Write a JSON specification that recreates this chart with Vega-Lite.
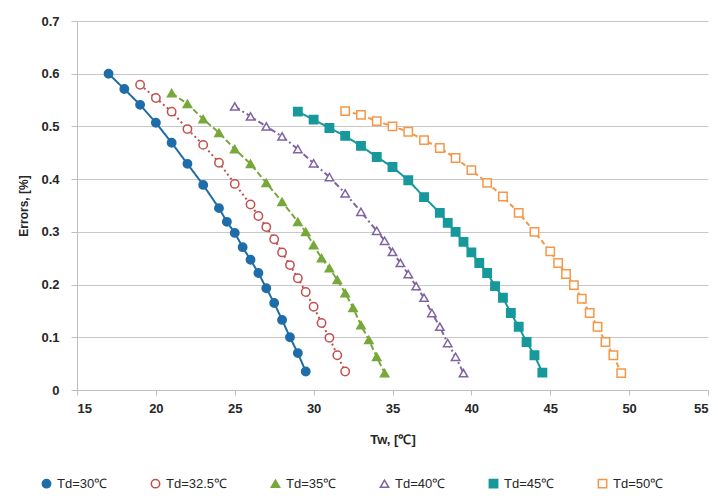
{
  "$schema": "https://vega.github.io/schema/vega-lite/v6.json",
  "autosize": "none",
  "width": 631,
  "height": 369,
  "padding": {"left": 77, "top": 21, "right": 10, "bottom": 112},
  "background": "white",
  "config": {
    "view": {"stroke": null},
    "font": "Liberation Sans",
    "axis": {"labelFont": "Liberation Sans", "titleFont": "Liberation Sans", "labelColor": "#262626", "titleColor": "#262626", "labelFontWeight": "bold", "titleFontWeight": "bold"},
    "legend": {"labelFont": "Liberation Sans"}
  },
  "data": {"values": [
    {"series": "Td=30℃", "Tw": 17, "err": 0.6},
    {"series": "Td=30℃", "Tw": 18, "err": 0.571},
    {"series": "Td=30℃", "Tw": 19, "err": 0.541},
    {"series": "Td=30℃", "Tw": 20, "err": 0.507},
    {"series": "Td=30℃", "Tw": 21, "err": 0.469},
    {"series": "Td=30℃", "Tw": 22, "err": 0.429},
    {"series": "Td=30℃", "Tw": 23, "err": 0.389},
    {"series": "Td=30℃", "Tw": 24, "err": 0.345},
    {"series": "Td=30℃", "Tw": 24.5, "err": 0.319},
    {"series": "Td=30℃", "Tw": 25, "err": 0.298},
    {"series": "Td=30℃", "Tw": 25.5, "err": 0.271},
    {"series": "Td=30℃", "Tw": 26, "err": 0.247},
    {"series": "Td=30℃", "Tw": 26.5, "err": 0.222},
    {"series": "Td=30℃", "Tw": 27, "err": 0.193},
    {"series": "Td=30℃", "Tw": 27.5, "err": 0.165},
    {"series": "Td=30℃", "Tw": 28, "err": 0.133},
    {"series": "Td=30℃", "Tw": 28.5, "err": 0.1},
    {"series": "Td=30℃", "Tw": 29, "err": 0.07},
    {"series": "Td=30℃", "Tw": 29.5, "err": 0.035},
    {"series": "Td=32.5℃", "Tw": 19, "err": 0.579},
    {"series": "Td=32.5℃", "Tw": 20, "err": 0.554},
    {"series": "Td=32.5℃", "Tw": 21, "err": 0.528},
    {"series": "Td=32.5℃", "Tw": 22, "err": 0.495},
    {"series": "Td=32.5℃", "Tw": 23, "err": 0.465},
    {"series": "Td=32.5℃", "Tw": 24, "err": 0.431},
    {"series": "Td=32.5℃", "Tw": 25, "err": 0.391},
    {"series": "Td=32.5℃", "Tw": 26, "err": 0.352},
    {"series": "Td=32.5℃", "Tw": 26.5, "err": 0.33},
    {"series": "Td=32.5℃", "Tw": 27, "err": 0.309},
    {"series": "Td=32.5℃", "Tw": 27.5, "err": 0.286},
    {"series": "Td=32.5℃", "Tw": 28, "err": 0.261},
    {"series": "Td=32.5℃", "Tw": 28.5, "err": 0.237},
    {"series": "Td=32.5℃", "Tw": 29, "err": 0.212},
    {"series": "Td=32.5℃", "Tw": 29.5, "err": 0.186},
    {"series": "Td=32.5℃", "Tw": 30, "err": 0.158},
    {"series": "Td=32.5℃", "Tw": 30.5, "err": 0.127},
    {"series": "Td=32.5℃", "Tw": 31, "err": 0.099},
    {"series": "Td=32.5℃", "Tw": 31.5, "err": 0.066},
    {"series": "Td=32.5℃", "Tw": 32, "err": 0.035},
    {"series": "Td=35℃", "Tw": 21, "err": 0.563},
    {"series": "Td=35℃", "Tw": 22, "err": 0.543},
    {"series": "Td=35℃", "Tw": 23, "err": 0.514},
    {"series": "Td=35℃", "Tw": 24, "err": 0.488},
    {"series": "Td=35℃", "Tw": 25, "err": 0.457},
    {"series": "Td=35℃", "Tw": 26, "err": 0.429},
    {"series": "Td=35℃", "Tw": 27, "err": 0.393},
    {"series": "Td=35℃", "Tw": 28, "err": 0.357},
    {"series": "Td=35℃", "Tw": 29, "err": 0.319},
    {"series": "Td=35℃", "Tw": 29.5, "err": 0.3},
    {"series": "Td=35℃", "Tw": 30, "err": 0.275},
    {"series": "Td=35℃", "Tw": 30.5, "err": 0.25},
    {"series": "Td=35℃", "Tw": 31, "err": 0.231},
    {"series": "Td=35℃", "Tw": 31.5, "err": 0.209},
    {"series": "Td=35℃", "Tw": 32, "err": 0.184},
    {"series": "Td=35℃", "Tw": 32.5, "err": 0.156},
    {"series": "Td=35℃", "Tw": 33, "err": 0.123},
    {"series": "Td=35℃", "Tw": 33.5, "err": 0.095},
    {"series": "Td=35℃", "Tw": 34, "err": 0.063},
    {"series": "Td=35℃", "Tw": 34.5, "err": 0.032},
    {"series": "Td=40℃", "Tw": 25, "err": 0.538},
    {"series": "Td=40℃", "Tw": 26, "err": 0.519},
    {"series": "Td=40℃", "Tw": 27, "err": 0.5},
    {"series": "Td=40℃", "Tw": 28, "err": 0.481},
    {"series": "Td=40℃", "Tw": 29, "err": 0.457},
    {"series": "Td=40℃", "Tw": 30, "err": 0.43},
    {"series": "Td=40℃", "Tw": 31, "err": 0.404},
    {"series": "Td=40℃", "Tw": 32, "err": 0.373},
    {"series": "Td=40℃", "Tw": 33, "err": 0.338},
    {"series": "Td=40℃", "Tw": 34, "err": 0.302},
    {"series": "Td=40℃", "Tw": 34.5, "err": 0.283},
    {"series": "Td=40℃", "Tw": 35, "err": 0.262},
    {"series": "Td=40℃", "Tw": 35.5, "err": 0.241},
    {"series": "Td=40℃", "Tw": 36, "err": 0.22},
    {"series": "Td=40℃", "Tw": 36.5, "err": 0.197},
    {"series": "Td=40℃", "Tw": 37, "err": 0.175},
    {"series": "Td=40℃", "Tw": 37.5, "err": 0.146},
    {"series": "Td=40℃", "Tw": 38, "err": 0.12},
    {"series": "Td=40℃", "Tw": 38.5, "err": 0.089},
    {"series": "Td=40℃", "Tw": 39, "err": 0.063},
    {"series": "Td=40℃", "Tw": 39.5, "err": 0.032},
    {"series": "Td=45℃", "Tw": 29, "err": 0.528},
    {"series": "Td=45℃", "Tw": 30, "err": 0.513},
    {"series": "Td=45℃", "Tw": 31, "err": 0.497},
    {"series": "Td=45℃", "Tw": 32, "err": 0.482},
    {"series": "Td=45℃", "Tw": 33, "err": 0.463},
    {"series": "Td=45℃", "Tw": 34, "err": 0.442},
    {"series": "Td=45℃", "Tw": 35, "err": 0.423},
    {"series": "Td=45℃", "Tw": 36, "err": 0.398},
    {"series": "Td=45℃", "Tw": 37, "err": 0.366},
    {"series": "Td=45℃", "Tw": 38, "err": 0.336},
    {"series": "Td=45℃", "Tw": 38.5, "err": 0.317},
    {"series": "Td=45℃", "Tw": 39, "err": 0.3},
    {"series": "Td=45℃", "Tw": 39.5, "err": 0.281},
    {"series": "Td=45℃", "Tw": 40, "err": 0.261},
    {"series": "Td=45℃", "Tw": 40.5, "err": 0.241},
    {"series": "Td=45℃", "Tw": 41, "err": 0.222},
    {"series": "Td=45℃", "Tw": 41.5, "err": 0.197},
    {"series": "Td=45℃", "Tw": 42, "err": 0.175},
    {"series": "Td=45℃", "Tw": 42.5, "err": 0.146},
    {"series": "Td=45℃", "Tw": 43, "err": 0.12},
    {"series": "Td=45℃", "Tw": 43.5, "err": 0.091},
    {"series": "Td=45℃", "Tw": 44, "err": 0.066},
    {"series": "Td=45℃", "Tw": 44.5, "err": 0.033},
    {"series": "Td=50℃", "Tw": 32, "err": 0.529},
    {"series": "Td=50℃", "Tw": 33, "err": 0.522},
    {"series": "Td=50℃", "Tw": 34, "err": 0.51},
    {"series": "Td=50℃", "Tw": 35, "err": 0.5},
    {"series": "Td=50℃", "Tw": 36, "err": 0.49},
    {"series": "Td=50℃", "Tw": 37, "err": 0.474},
    {"series": "Td=50℃", "Tw": 38, "err": 0.459},
    {"series": "Td=50℃", "Tw": 39, "err": 0.44},
    {"series": "Td=50℃", "Tw": 40, "err": 0.417},
    {"series": "Td=50℃", "Tw": 41, "err": 0.393},
    {"series": "Td=50℃", "Tw": 42, "err": 0.367},
    {"series": "Td=50℃", "Tw": 43, "err": 0.336},
    {"series": "Td=50℃", "Tw": 44, "err": 0.3},
    {"series": "Td=50℃", "Tw": 45, "err": 0.263},
    {"series": "Td=50℃", "Tw": 45.5, "err": 0.241},
    {"series": "Td=50℃", "Tw": 46, "err": 0.22},
    {"series": "Td=50℃", "Tw": 46.5, "err": 0.199},
    {"series": "Td=50℃", "Tw": 47, "err": 0.173},
    {"series": "Td=50℃", "Tw": 47.5, "err": 0.146},
    {"series": "Td=50℃", "Tw": 48, "err": 0.12},
    {"series": "Td=50℃", "Tw": 48.5, "err": 0.091},
    {"series": "Td=50℃", "Tw": 49, "err": 0.066},
    {"series": "Td=50℃", "Tw": 49.5, "err": 0.032}
  ]},
  "encoding": {
    "x": {"field": "Tw", "type": "quantitative",
      "scale": {"domain": [15, 55], "nice": false, "zero": false},
      "axis": {"values": [15, 20, 25, 30, 35, 40, 45, 50, 55], "grid": false, "title": "Tw, [℃]", "titleFontSize": 13, "labelFontSize": 13, "domainColor": "#BFBFBF", "tickColor": "#BFBFBF", "tickSize": 5, "labelPadding": 7, "titlePadding": 18}},
    "y": {"field": "err", "type": "quantitative",
      "scale": {"domain": [0, 0.7], "nice": false},
      "axis": {"values": [0, 0.1, 0.2, 0.3, 0.4, 0.5, 0.6, 0.7], "labelExpr": "datum.value == 0 ? '0' : format(datum.value, '.1f')", "grid": true, "gridColor": "#C8C8C8", "title": "Errors, [%]", "titleFontSize": 12, "labelFontSize": 13, "domainColor": "#BFBFBF", "tickColor": "#BFBFBF", "tickSize": 6, "labelPadding": 12, "titlePadding": 10}}
  },
  "layer": [
    {
      "mark": {"type": "line", "strokeWidth": 2},
      "encoding": {
        "color": {"field": "series", "type": "nominal",
          "scale": {"domain": ["Td=30℃", "Td=32.5℃", "Td=35℃", "Td=40℃", "Td=45℃", "Td=50℃"], "range": ["#1F6DA8", "#C0504D", "#77A83A", "#8064A2", "#17999C", "#F79646"]},
          "legend": {"orient": "none", "legendX": -37, "legendY": 456, "direction": "horizontal", "title": null, "labelFontSize": 13, "labelColor": "#262626", "symbolSize": 70, "symbolStrokeWidth": 1.5, "columnPadding": 40, "labelOffset": 4}},
        "strokeDash": {
          "condition": [
            {"test": "datum.series == 'Td=32.5℃'", "value": [2, 3]},
            {"test": "datum.series == 'Td=35℃'", "value": [6, 3]},
            {"test": "datum.series == 'Td=40℃'", "value": [6, 3, 2, 3]},
            {"test": "datum.series == 'Td=50℃'", "value": [5, 3]}
          ],
          "value": [1, 0]
        }
      }
    },
    {
      "mark": {"type": "point", "filled": false, "strokeWidth": 1.5, "opacity": 1, "size": 70},
      "encoding": {
        "color": {"field": "series", "type": "nominal"},
        "fill": {"field": "series", "type": "nominal",
          "scale": {"domain": ["Td=30℃", "Td=32.5℃", "Td=35℃", "Td=40℃", "Td=45℃", "Td=50℃"], "range": ["#1F6DA8", "#FFFFFF", "#77A83A", "#FFFFFF", "#17999C", "#FFFFFF"]}},
        "shape": {"field": "series", "type": "nominal",
          "scale": {"domain": ["Td=30℃", "Td=32.5℃", "Td=35℃", "Td=40℃", "Td=45℃", "Td=50℃"], "range": ["circle", "circle", "triangle-up", "triangle-up", "square", "square"]}}
      }
    }
  ]
}
